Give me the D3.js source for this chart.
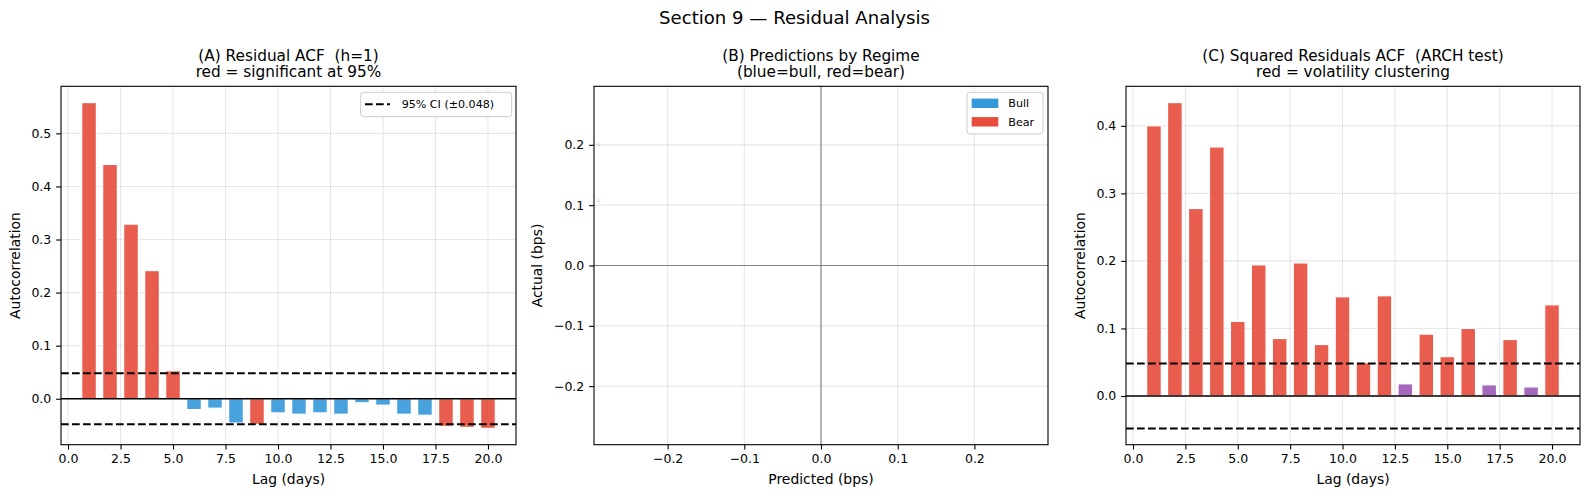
<!DOCTYPE html>
<html>
<head>
<meta charset="utf-8">
<script src="https://cdn.jsdelivr.net/npm/d3@7"></script>
<style>
  body { margin: 0; background: #fff; }
  svg text { font-family: "DejaVu Sans", sans-serif; fill: #000; white-space: pre; }
</style>
</head>
<body>
<div id="chart"></div>
<script>
"use strict";

// == DATA ==
var lags = [1, 2, 3, 4, 5, 6, 7, 8, 9, 10, 11, 12, 13, 14, 15, 16, 17, 18, 19, 20];
var residAcf = [0.558, 0.4415, 0.329, 0.2414, 0.0527, -0.0204, -0.0178, -0.0458, -0.0483, -0.0267,
                -0.0292, -0.0267, -0.0292, -0.0076, -0.0121, -0.0292, -0.0311, -0.0521, -0.054, -0.0559];
var sqResidAcf = [0.400, 0.4344, 0.2776, 0.3687, 0.1105, 0.1941, 0.0851, 0.197, 0.0762, 0.1469,
                  0.0493, 0.1484, 0.018, 0.0916, 0.0583, 0.100, 0.0165, 0.0836, 0.0134, 0.135];
var ciBound = 0.048;

var lagTicks = [0, 2.5, 5, 7.5, 10, 12.5, 15, 17.5, 20];
var residTicks = [0, 0.1, 0.2, 0.3, 0.4, 0.5];
var sqTicks = [0, 0.1, 0.2, 0.3, 0.4];
var regimeTicks = [-0.2, -0.1, 0, 0.1, 0.2];

// panel B scatter (almost empty)
var bullPred = [-0.29, -0.29];
var bullActual = [0.2, 0.107];
var bearPred = [];
var bearActual = [];

var RED = "#e74c3c", BLUE = "#3498db", PURPLE = "#9b59b6";

// == BOILERPLATE ==
var W = 1589, H = 495;
var plotTop = 86.3, plotBottom = 444.7;
var tickLen = 4.86, tickPad = 4.86;
var fmt = d3.format(".1f");

var svg = d3.select("#chart")
  .append("svg")
  .attr("width", W)
  .attr("height", H);

svg.append("text")
  .attr("x", W / 2)
  .attr("y", 24)
  .attr("text-anchor", "middle")
  .style("font-size", "18.1px")
  .text("Section 9 \u2014 Residual Analysis");

// draws grid, axes, titles for one panel
var drawFrame = function(p) {
  var g = svg.append("g");

  // grid
  g.selectAll(".gx").data(p.xTicks).enter().append("line")
    .attr("x1", function(d) { return p.x(d); })
    .attr("x2", function(d) { return p.x(d); })
    .attr("y1", plotTop).attr("y2", plotBottom)
    .attr("stroke", "#b0b0b0").attr("stroke-opacity", 0.3).attr("stroke-width", 1.1);
  g.selectAll(".gy").data(p.yTicks).enter().append("line")
    .attr("y1", function(d) { return p.y(d); })
    .attr("y2", function(d) { return p.y(d); })
    .attr("x1", p.left).attr("x2", p.right)
    .attr("stroke", "#b0b0b0").attr("stroke-opacity", 0.3).attr("stroke-width", 1.1);

  var xAxis = d3.axisBottom(p.x).tickValues(p.xTicks).tickFormat(fmt)
    .tickSize(tickLen).tickPadding(tickPad);
  var yAxis = d3.axisLeft(p.y).tickValues(p.yTicks).tickFormat(fmt)
    .tickSize(tickLen).tickPadding(tickPad);

  var ax = svg.append("g").attr("transform", "translate(0," + plotBottom + ")").call(xAxis);
  var ay = svg.append("g").attr("transform", "translate(" + p.left + ",0)").call(yAxis);
  [ax, ay].forEach(function(a) {
    a.select(".domain").remove();
    a.selectAll(".tick line").attr("stroke", "#000").attr("stroke-width", 1.1);
    a.selectAll(".tick text").style("font-size", "12.5px").attr("font-family", null);
  });

  // titles
  var cx = (p.left + p.right) / 2;
  svg.append("text").attr("x", cx).attr("y", 61).attr("text-anchor", "middle")
    .style("font-size", "15.3px").text(p.title[0]);
  svg.append("text").attr("x", cx).attr("y", 77).attr("text-anchor", "middle")
    .style("font-size", "15.3px").text(p.title[1]);

  svg.append("text").attr("x", cx).attr("y", 484).attr("text-anchor", "middle")
    .style("font-size", "13.9px").text(p.xLabel);
  svg.append("text")
    .attr("transform", "translate(" + (p.left - p.yLabelOff) + "," + ((plotTop + plotBottom) / 2) + ") rotate(-90)")
    .attr("text-anchor", "middle")
    .style("font-size", "13.9px").text(p.yLabel);

  return g;
};

var drawSpines = function(p) {
  svg.append("rect")
    .attr("x", p.left).attr("y", plotTop)
    .attr("width", p.right - p.left).attr("height", plotBottom - plotTop)
    .attr("fill", "none").attr("stroke", "#000").attr("stroke-width", 1.1);
};

// == ACF PANELS ==
var drawAcf = function(p, values, lowColor) {
  var lo = d3.min(values.concat([-ciBound])), hi = d3.max(values.concat([ciBound]));
  var pad = (hi - lo) * 0.05;
  p.x = d3.scaleLinear().domain([0.65 - 0.05 * 19.7, 20.35 + 0.05 * 19.7]).range([p.left, p.right]);
  p.y = d3.scaleLinear().domain([lo - pad, hi + pad]).range([plotBottom, plotTop]);
  p.xTicks = lagTicks;

  var g = drawFrame(p);
  var bw = p.x(0.7) - p.x(0);

  g.selectAll("rect.bar")
    .data(lags)
    .enter()
    .append("rect")
    .attr("class", "bar")
    .attr("x", function(d) { return p.x(d) - bw / 2; })
    .attr("width", bw)
    .attr("y", function(d, i) { return p.y(Math.max(0, values[i])); })
    .attr("height", function(d, i) { return Math.abs(p.y(values[i]) - p.y(0)); })
    .style("fill", function(d, i) {
      return Math.abs(values[i]) > ciBound ? RED : lowColor;
    })
    .attr("stroke", "#fff")
    .attr("stroke-width", 1.2)
    .attr("opacity", 0.9);

  g.append("line")
    .attr("x1", p.left).attr("x2", p.right)
    .attr("y1", p.y(0)).attr("y2", p.y(0))
    .attr("stroke", "#000").attr("stroke-width", 1.3);

  [ciBound, -ciBound].forEach(function(v) {
    g.append("line")
      .attr("x1", p.left).attr("x2", p.right)
      .attr("y1", p.y(v)).attr("y2", p.y(v))
      .attr("stroke", "#000").attr("stroke-width", 2)
      .attr("stroke-dasharray", "7.7,3.3");
  });

  drawSpines(p);
  return p;
};

var pA = drawAcf({
  left: 61, right: 516,
  yTicks: residTicks,
  title: ["(A) Residual ACF  (h=1)", "red = significant at 95%"],
  xLabel: "Lag (days)", yLabel: "Autocorrelation", yLabelOff: 41
}, residAcf, BLUE);

// legend A
var lgA = svg.append("g");
lgA.append("rect")
  .attr("x", pA.right - 155.3).attr("y", plotTop + 6)
  .attr("width", 151).attr("height", 24.4).attr("rx", 3)
  .attr("fill", "#fff").attr("fill-opacity", 0.8)
  .attr("stroke", "#ccc").attr("stroke-width", 1);
lgA.append("line")
  .attr("x1", pA.right - 151).attr("x2", pA.right - 126)
  .attr("y1", plotTop + 18).attr("y2", plotTop + 18)
  .attr("stroke", "#000").attr("stroke-width", 2).attr("stroke-dasharray", "7.7,3.3");
lgA.append("text")
  .attr("x", pA.right - 114.3).attr("y", plotTop + 21.8)
  .style("font-size", "11.1px")
  .text("95% CI (\u00b1" + ciBound.toFixed(3) + ")");

drawAcf({
  left: 1126, right: 1580,
  yTicks: sqTicks,
  title: ["(C) Squared Residuals ACF  (ARCH test)", "red = volatility clustering"],
  xLabel: "Lag (days)", yLabel: "Autocorrelation", yLabelOff: 41
}, sqResidAcf, PURPLE);

// == SCATTER PANEL ==
var pB = {
  left: 594, right: 1048,
  xTicks: regimeTicks, yTicks: regimeTicks,
  title: ["(B) Predictions by Regime", "(blue=bull, red=bear)"],
  xLabel: "Predicted (bps)", yLabel: "Actual (bps)", yLabelOff: 51.6
};
pB.x = d3.scaleLinear().domain([-0.296, 0.296]).range([pB.left, pB.right]);
pB.y = d3.scaleLinear().domain([-0.297, 0.297]).range([plotBottom, plotTop]);
var gB = drawFrame(pB);

gB.append("line")
  .attr("x1", pB.x(0)).attr("x2", pB.x(0)).attr("y1", plotTop).attr("y2", plotBottom)
  .attr("stroke", "#808080").attr("stroke-width", 1.1);
gB.append("line")
  .attr("x1", pB.left).attr("x2", pB.right).attr("y1", pB.y(0)).attr("y2", pB.y(0))
  .attr("stroke", "#808080").attr("stroke-width", 1.1);

gB.selectAll("circle.bull")
  .data(bullPred)
  .enter()
  .append("circle")
  .attr("class", "bull")
  .attr("cx", function(d) { return pB.x(d); })
  .attr("cy", function(d, i) { return pB.y(bullActual[i]); })
  .attr("r", 2)
  .style("fill", BLUE)
  .style("fill-opacity", 0.15);

gB.selectAll("circle.bear")
  .data(bearPred)
  .enter()
  .append("circle")
  .attr("class", "bear")
  .attr("cx", function(d) { return pB.x(d); })
  .attr("cy", function(d, i) { return pB.y(bearActual[i]); })
  .attr("r", 2)
  .style("fill", RED)
  .style("fill-opacity", 0.15);

drawSpines(pB);

// legend B
var lgB = svg.append("g");
lgB.append("rect")
  .attr("x", pB.right - 81).attr("y", plotTop + 6)
  .attr("width", 76).attr("height", 41.7).attr("rx", 3)
  .attr("fill", "#fff").attr("fill-opacity", 0.8)
  .attr("stroke", "#ccc").attr("stroke-width", 1);
[["Bull", BLUE], ["Bear", RED]].forEach(function(item, i) {
  var cy = plotTop + 17 + i * 18.5;
  lgB.append("rect")
    .attr("x", pB.right - 76.3).attr("y", cy - 4.7)
    .attr("width", 26.6).attr("height", 9.4)
    .attr("fill", item[1]);
  lgB.append("text")
    .attr("x", pB.right - 39.7).attr("y", cy + 4)
    .style("font-size", "11.1px")
    .text(item[0]);
});
</script>
</body>
</html>
